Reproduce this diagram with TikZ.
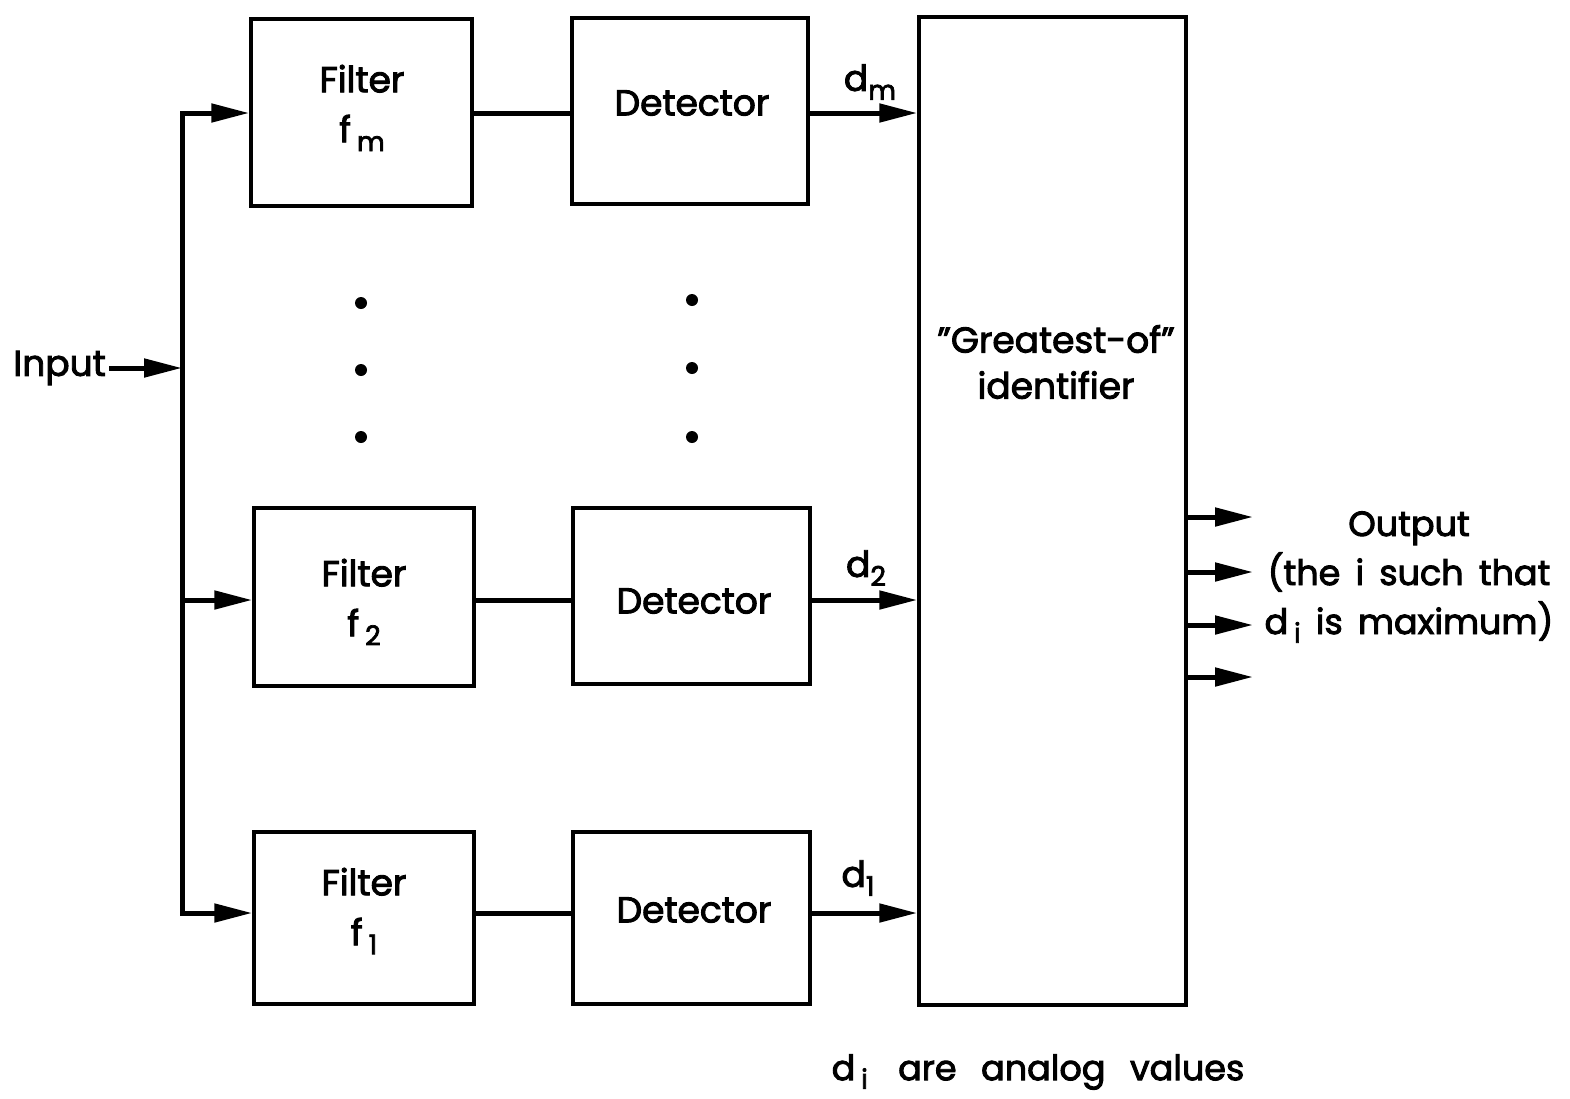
\documentclass[tikz,border=0pt]{standalone}
\usepackage{fontspec}
\setmainfont{Poppins}[FakeBold=2.6]
\usetikzlibrary{arrows.meta}
\newcommand{\lowidx}[1]{\raisebox{-0.45ex}{\fontsize{27}{27}\selectfont #1}}
\begin{document}
\begin{tikzpicture}[x=1pt,y=-1pt,
  box/.style={draw,line width=3.5pt,inner sep=0pt},
  lbl/.style={font=\fontsize{36}{46}\selectfont,align=center,inner sep=0pt},
  conn/.style={line width=5pt},
  arr/.style={line width=5pt,-{Triangle[length=38pt,width=18pt]}},
  dot/.style={circle,fill=black,inner sep=0pt,minimum size=12pt}]
\useasboundingbox (0,0) rectangle (1570,1098);
% boxes
\node[box,minimum width=221pt,minimum height=187pt] (fm) at (361.5,112.5) {};
\node[box,minimum width=236pt,minimum height=186pt] (dm) at (690,111) {};
\node[box,minimum width=220pt,minimum height=178pt] (f2) at (364,597) {};
\node[box,minimum width=237pt,minimum height=176pt] (d2) at (691.5,596) {};
\node[box,minimum width=220pt,minimum height=172pt] (f1) at (364,918) {};
\node[box,minimum width=237pt,minimum height=172pt] (d1) at (691.5,918) {};
\node[box,minimum width=267pt,minimum height=988pt] (g) at (1052.5,511) {};
% box texts
\node[lbl,font=\fontsize{36}{50}\selectfont] (tfm) at (362,108) {Filter\\f\,\lowidx{m}};
\node[lbl] (tdm) at (692,103) {Detector};
\node[lbl,font=\fontsize{36}{50}\selectfont] (tf2) at (364,602) {Filter\\f\,\lowidx{2}};
\node[lbl] (td2) at (694,601) {Detector};
\node[lbl,font=\fontsize{36}{50}\selectfont] (tf1) at (364,911) {Filter\\f\,\lowidx{1}};
\node[lbl] (td1) at (694,910) {Detector};
\node[lbl] (tg) at (1056,362) {"Greatest-of"\\identifier};
% input
\node[lbl,anchor=east] (in) at (106,368) {Input};
\coordinate (bt) at (182,113);
\coordinate (bb) at (182,913);
\coordinate (bmid) at (182,368);
\coordinate (b2) at (182,600);
\draw[line width=5pt,line cap=rect] (bt) -- (bb);
\draw[arr] (in.east) ++(3pt,0) -- (bmid);
\draw[arr] (bt) -- (bt -| fm.west);
\draw[arr] (b2) -- (b2 -| f2.west);
\draw[arr] (bb) -- (bb -| f1.west);
% filter to detector
\draw[conn] (fm.east |- bt) -- (dm.west |- bt);
\draw[conn] (f2.east |- b2) -- (d2.west |- b2);
\draw[conn] (f1.east |- bb) -- (d1.west |- bb);
% detector to identifier
\draw[arr] (dm.east |- bt) -- (g.west |- bt);
\draw[arr] (d2.east |- b2) -- (g.west |- b2);
\draw[arr] (d1.east |- bb) -- (g.west |- bb);
\node[lbl] (ldm) at (870,82) {d\lowidx{m}};
\node[lbl] (ld2) at (866,568) {d\lowidx{2}};
\node[lbl] (ld1) at (858,878) {d\lowidx{1}};
% dots
\node[dot] (p1) at (361,303) {};
\node[dot] (p2) at (361,370) {};
\node[dot] (p3) at (361,437) {};
\node[dot] (q1) at (692,300) {};
\node[dot] (q2) at (692,368) {};
\node[dot] (q3) at (692,437) {};
% outputs
\foreach \yy/\nm in {517/o1,572/o2,625/o3,677/o4}{
  \coordinate (\nm s) at (g.east |- 0,\yy);
  \coordinate (\nm e) at (1253,\yy);
  \draw[arr] (\nm s) -- (\nm e);
}
\node[lbl,font=\fontsize{35}{49}\selectfont] (out) at (1409,577) {Output\\(the\ \,i\ \,such\ \,that\\d\,\lowidx{i}\ \,is\ \,maximum)};
\node[lbl,font=\fontsize{35}{49}\selectfont] (note) at (1038,1072) {d\,\lowidx{i}\,\ \ \,are\ \ \,analog\ \ \,values};
\end{tikzpicture}
\end{document}
